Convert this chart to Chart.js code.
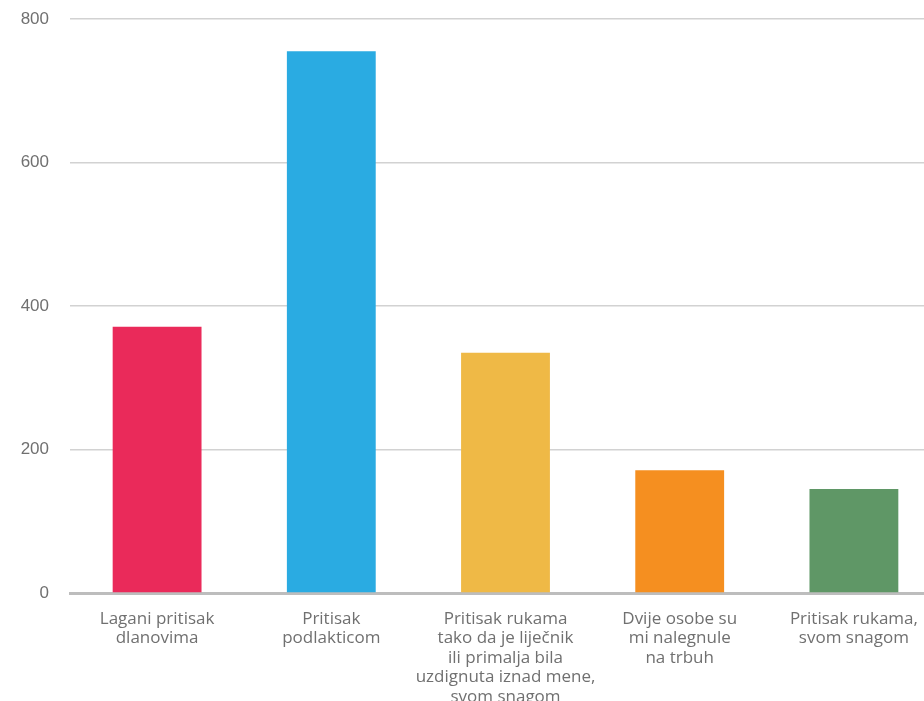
<!DOCTYPE html>
<html>
<head>
<meta charset="utf-8">
<script src="https://cdn.jsdelivr.net/npm/chart.js@4.4.1/dist/chart.umd.min.js"></script>
<style>
    body { margin: 0; overflow: hidden; background: #fff; }
    #wrap { position: absolute; left: 0; top: 0; width: 941px; height: 715px; }
</style>
</head>
<body>
<div id="wrap"><canvas id="canvas" width="941" height="715"></canvas></div>
<script>
// Données du graphique
const categories = [
    ['Lagani pritisak', 'dlanovima'],
    ['Pritisak', 'podlakticom'],
    ['Pritisak rukama', 'tako da je liječnik', 'ili primalja bila', 'uzdignuta iznad mene,', 'svom snagom'],
    ['Dvije osobe su', 'mi nalegnule', 'na trbuh'],
    ['Pritisak rukama,', 'svom snagom']
];
const values = [371, 755, 335, 171, 145];
const barColors = ['#EA2A5A', '#2AABE2', '#EFB946', '#F58F20', '#5F9766'];
const yTicks = [0, 200, 400, 600, 800];

new Chart(document.querySelector('#canvas'), {
    type: 'bar',
    data: {
        labels: categories,
        datasets: [{
            label: '',
            data: values,
            backgroundColor: barColors,
            barPercentage: 0.51,
            categoryPercentage: 1
        }]
    },
    options: {
        responsive: false,
        animation: false,
        layout: { padding: { top: 19, left: 0, right: 0, bottom: 0 } },
        plugins: {
            legend: { display: false },
            tooltip: { enabled: false }
        },
        scales: {
            x: {
                afterFit: (scale) => { scale.height = 122; },
                grid: { display: false, drawTicks: false },
                border: { display: true, color: '#bdbdbd', width: 3 },
                ticks: {
                    color: '#707070',
                    padding: 16,
                    maxRotation: 0,
                    autoSkip: false,
                    font: { family: 'Open Sans', size: 17, lineHeight: 1.15 }
                }
            },
            y: {
                min: 0,
                max: 800,
                afterFit: (scale) => { scale.width = 70; },
                afterBuildTicks: (scale) => { scale.ticks = yTicks.map(v => ({ value: v })); },
                // tick invisible pour garder l'écart entre étiquettes et grille
                grid: { color: '#d2d2d2', lineWidth: 1.5, drawTicks: true, tickLength: 21, tickColor: 'rgba(0,0,0,0)' },
                border: { display: false },
                ticks: {
                    color: '#707070',
                    padding: 0,
                    font: { family: 'Liberation Sans', size: 17 }
                }
            }
        }
    }
});
</script>
</body>
</html>
